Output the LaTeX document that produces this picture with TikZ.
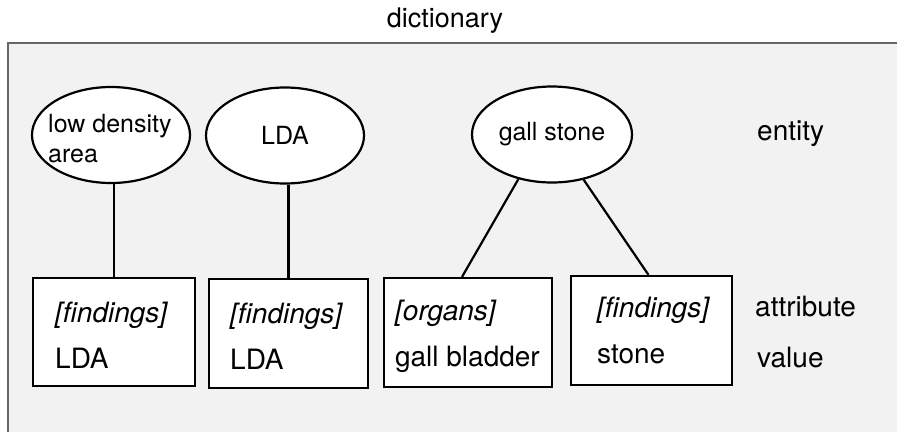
\documentclass[tikz,border=0pt]{standalone}
\usepackage{fontspec}
\setmainfont{TeX Gyre Heros}
\usetikzlibrary{shapes.geometric,calc}
\begin{document}
\begin{tikzpicture}[x=1pt,y=-1pt,
  ent/.style={ellipse,draw,line width=2.2pt,fill=white,inner sep=0pt,minimum width=158pt,minimum height=96pt,font=\fontsize{25}{30}\selectfont},
  attbox/.style={rectangle,draw,line width=2.2pt,fill=white,inner sep=0pt},
  boxtext/.style={anchor=base west,align=left,inner sep=0pt,font=\fontsize{28}{46}\selectfont},
  enttext/.style={anchor=base west,align=left,inner sep=0pt,font=\fontsize{25}{30}\selectfont},
  sidetext/.style={anchor=base west,inner sep=0pt,font=\fontsize{28}{34}\selectfont},
  link/.style={line width=2.2pt}]
\useasboundingbox (0,0) rectangle (897,432);
\fill[white] (0,0) rectangle (897,432);
\fill[black!5] (8,43) rectangle (897,432);
\draw[black!60, line width=1.2pt] (897,43) -- (8,43) -- (8,432);
\node[anchor=base,inner sep=0pt,font=\fontsize{27}{32}\selectfont] (title) at (445,27) {dictionary};
% entities
\node[ent] (e1) at (111,135) {};
\node[enttext] (e1t) at (48,162) {low density\\area};
\node[ent] (e2) at (285,135.5) {LDA};
\node[ent,minimum width=160pt] (e3) at (552,134.5) {gall stone};
% attribute/value boxes
\node[attbox,minimum width=162pt,minimum height=108pt] (b1) at (114,332) {};
\node[boxtext] (b1t) at (55,368) {\textit{[findings]}\\LDA};
\node[attbox,minimum width=159pt,minimum height=109pt] (b2) at (288.5,333.5) {};
\node[boxtext] (b2t) at (230,369) {\textit{[findings]}\\LDA};
\node[attbox,minimum width=168pt,minimum height=109pt] (b3) at (468,332.5) {};
\node[boxtext] (b3t) at (395,366) {\textit{[organs]}\\gall bladder};
\node[attbox,minimum width=161pt,minimum height=109pt] (b4) at (651.5,330.5) {};
\node[boxtext] (b4t) at (597,363) {\textit{[findings]}\\stone};
% side labels
\node[sidetext] (lent) at (757,140) {entity};
\node[sidetext] (latt) at (755,316) {attribute};
\node[sidetext] (lval) at (757,367) {value};
% connectors
\draw[link] (b1.north) -- (b1.north |- e1.south);
\draw[link] (b2.north) -- (b2.north |- e2.south);
\draw[link] (e3.233) -- ([xshift=-6pt]b3.north);
\draw[link] (e3.305) -- ([xshift=-3pt]b4.north);
\end{tikzpicture}
\end{document}
